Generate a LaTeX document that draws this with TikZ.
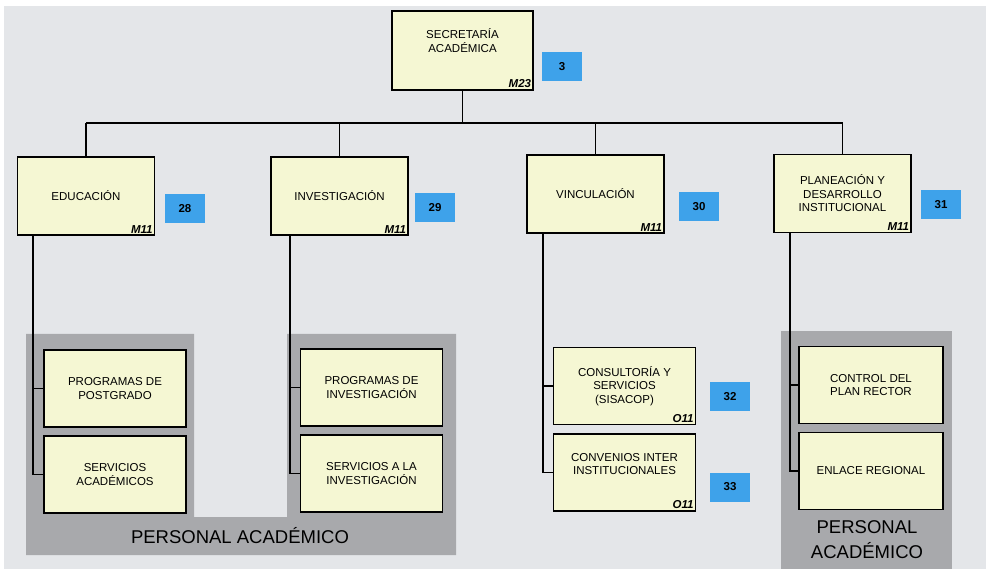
\documentclass[tikz,border=0pt]{standalone}
\usepackage{fontspec}
\setmainfont{Liberation Sans}
\usepackage{tikz}
\usetikzlibrary{positioning}

\definecolor{fondo}{HTML}{E4E6E9}
\definecolor{caja}{HTML}{F5F7D3}
\definecolor{azul}{HTML}{3EA2EA}
\definecolor{panel}{HTML}{A8A9AC}

\tikzset{
  unidad/.style={draw=black, line width=1.6pt, fill=caja, align=center,
    font=\fontsize{11.5}{13.5}\selectfont, inner sep=2pt},
  nivel/.style={unidad, minimum width=137pt, minimum height=78pt},
  area/.style={unidad, minimum width=142pt, minimum height=77pt},
  clave/.style={anchor=south east, font=\fontsize{11.5}{12}\selectfont\bfseries\itshape, inner sep=2.5pt},
  num/.style={fill=azul, minimum width=40pt, minimum height=29pt, inner sep=0pt,
    font=\fontsize{11.5}{12}\selectfont\bfseries},
  linea/.style={draw=black, line width=1.1pt},
  personal/.style={font=\fontsize{18.5}{25}\selectfont, align=center, inner sep=0pt}
}

\begin{document}
\begin{tikzpicture}[x=1pt,y=-1pt]   %% pixel coordinates
        \useasboundingbox (0,0) rectangle (986,569);
        \fill[white] (0,0) rectangle (986,569);
        \fill[fondo] (4,6) rectangle (986,569);

        % paneles de personal académico
        \fill[panel] (26,334) -- (194,334) -- (194,517) -- (287,517) -- (287,334) -- (456,334) -- (456,555) -- (26,555) -- cycle;
        \fill[panel] (781,331) rectangle (952,569);
        \node[personal] (pa1) at (240,536) {PERSONAL ACADÉMICO};
        \node[personal] (pa2) at (867,540) {PERSONAL\\ACADÉMICO};

        % secretaría
        \node[unidad, minimum width=141pt, minimum height=79pt] (sec) at (462.5,50.5) {SECRETARÍA\\ACADÉMICA\\[6pt]};
        \node[clave] (secC) at (sec.south east) {M23};
        \node[num] (n3) at (562,66.5) {3};

        % direcciones
        \node[nivel] (edu) at (86,196) {EDUCACIÓN};
        \node[clave] (eduC) at (edu.south east) {M11};
        \node[num] (n28) at (185,208.5) {28};

        \node[nivel] (inv) at (339.5,196) {INVESTIGACIÓN};
        \node[clave] (invC) at (inv.south east) {M11};
        \node[num] (n29) at (435,207.5) {29};

        \node[nivel] (vin) at (595.5,194) {VINCULACIÓN};
        \node[clave] (vinC) at (vin.south east) {M11};
        \node[num] (n30) at (699,206.5) {30};

        \node[nivel] (pla) at (842.5,193.5) {PLANEACIÓN Y\\DESARROLLO\\INSTITUCIONAL};
        \node[clave] (plaC) at (pla.south east) {M11};
        \node[num] (n31) at (941,205) {31};

        % áreas
        \node[area] (pp) at (115,388.5) {PROGRAMAS DE\\POSTGRADO};
        \node[area] (sa) at (115,474.5) {SERVICIOS\\ACADÉMICOS};
        \node[area] (pi) at (371.5,387.5) {PROGRAMAS DE\\INVESTIGACIÓN};
        \node[area] (si) at (371.5,473.5) {SERVICIOS A LA\\INVESTIGACIÓN};
        \node[area] (cs) at (624.5,386) {CONSULTORÍA Y\\SERVICIOS\\(SISACOP)};
        \node[clave] (csC) at (cs.south east) {O11};
        \node[num] (n32) at (730,397) {32};
        \node[area] (ci) at (624.5,472.5) {CONVENIOS INTER\\INSTITUCIONALES\\[4pt]};
        \node[clave] (ciC) at (ci.south east) {O11};
        \node[num] (n33) at (730,487) {33};
        \node[area, minimum width=144pt] (cp) at (871,385) {CONTROL DEL\\PLAN RECTOR};
        \node[area, minimum width=144pt] (er) at (871,471) {ENLACE REGIONAL};

        % conectores
        \coordinate (barra) at (0,123);
        \draw[linea] (sec.south) -- (sec.south |- barra);
        \draw[linea] (edu.north |- barra) -- (pla.north |- barra);
        \foreach \d in {edu,inv,vin,pla}
            \draw[linea] (\d.north |- barra) -- (\d.north);

        \coordinate (tEdu) at (33,0);
        \coordinate (tInv) at (290,0);
        \coordinate (tVin) at (543,0);
        \coordinate (tPla) at (790,0);
        \draw[linea] (edu.south -| tEdu) |- (sa.west);
        \draw[linea] (pp.west -| tEdu) -- (pp.west);
        \draw[linea] (inv.south -| tInv) |- (si.west);
        \draw[linea] (pi.west -| tInv) -- (pi.west);
        \draw[linea] (vin.south -| tVin) |- (ci.west);
        \draw[linea] (cs.west -| tVin) -- (cs.west);
        \draw[linea] (pla.south -| tPla) |- (er.west);
        \draw[linea] (cp.west -| tPla) -- (cp.west);
    \end{tikzpicture}
\end{document}
